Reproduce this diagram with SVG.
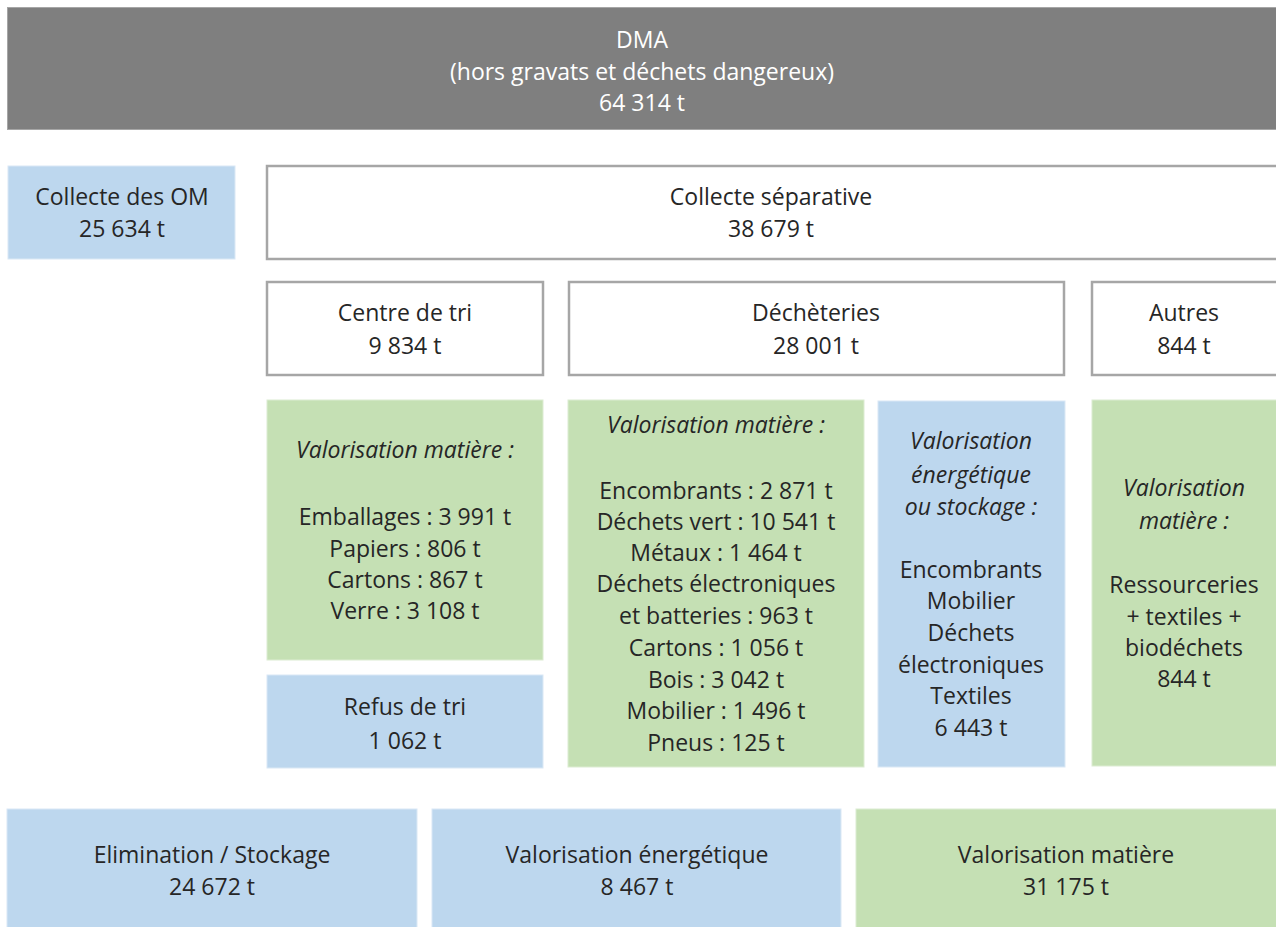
<svg xmlns="http://www.w3.org/2000/svg" width="1276" height="927" viewBox="0 0 1276 927">
<style>
text{font-family:"Open Sans","Noto Sans",sans-serif;font-size:23px;fill:#262626;text-anchor:middle}
.w{fill:#ffffff}
.i{font-style:italic}
.grey{fill:#7f7f7f;stroke:#a6a6a6;stroke-width:1}
.box{fill:#ffffff;stroke:#a6a6a6;stroke-width:2.5}
.blue{fill:#bdd7ee;stroke:#dae8f5;stroke-width:1}
.green{fill:#c5e0b4;stroke:#dcecd2;stroke-width:1}
</style>
<rect width="1276" height="927" fill="#ffffff"/>
<g id="dma"><rect class="grey" x="7.5" y="7.5" width="1270" height="122"/>
<text class="w" x="642" y="48">DMA</text><text class="w" x="642" y="80">(hors gravats et déchets dangereux)</text><text class="w" x="642" y="111">64 314 t</text></g>
<g id="om"><rect class="blue" x="8" y="166" width="227" height="93"/>
<text x="122" y="205">Collecte des OM</text><text x="122" y="237">25 634 t</text></g>
<g id="separative"><rect class="box" x="267" y="166" width="1012" height="93"/>
<text x="771" y="205">Collecte séparative</text><text x="771" y="237">38 679 t</text></g>
<g id="centre-tri"><rect class="box" x="267" y="282" width="276" height="93"/>
<text x="405" y="321">Centre de tri</text><text x="405" y="354">9 834 t</text></g>
<g id="decheteries"><rect class="box" x="569" y="282" width="495" height="93"/>
<text x="816" y="321">Déchèteries</text><text x="816" y="354">28 001 t</text></g>
<g id="autres"><rect class="box" x="1092" y="282" width="190" height="93"/>
<text x="1184" y="321">Autres</text><text x="1184" y="354">844 t</text></g>
<g id="tri-valo"><rect class="green" x="267" y="400" width="276" height="260"/>
<text class="i" x="405" y="458">Valorisation matière :</text>
<text x="405" y="525">Emballages : 3 991 t</text><text x="405" y="557">Papiers : 806 t</text><text x="405" y="588">Cartons : 867 t</text><text x="405" y="619">Verre : 3 108 t</text></g>
<g id="refus"><rect class="blue" x="267" y="675" width="276" height="93"/>
<text x="405" y="715">Refus de tri</text><text x="405" y="749">1 062 t</text></g>
<g id="dech-valo"><rect class="green" x="568" y="400" width="296" height="367"/>
<text class="i" x="716" y="433">Valorisation matière :</text>
<text x="716" y="499">Encombrants : 2 871 t</text><text x="716" y="530">Déchets vert : 10 541 t</text><text x="716" y="561">Métaux : 1 464 t</text><text x="716" y="592">Déchets électroniques</text><text x="716" y="624">et batteries : 963 t</text><text x="716" y="656">Cartons : 1 056 t</text><text x="716" y="688">Bois : 3 042 t</text><text x="716" y="719">Mobilier : 1 496 t</text><text x="716" y="751">Pneus : 125 t</text></g>
<g id="dech-energie"><rect class="blue" x="878" y="401" width="187" height="366"/>
<text class="i" x="971" y="449">Valorisation</text><text class="i" x="971" y="483">énergétique</text><text class="i" x="971" y="515">ou stockage :</text>
<text x="971" y="578">Encombrants</text><text x="971" y="609">Mobilier</text><text x="971" y="641">Déchets</text><text x="971" y="673">électroniques</text><text x="971" y="704">Textiles</text><text x="971" y="736">6 443 t</text></g>
<g id="autres-valo"><rect class="green" x="1092" y="400" width="190" height="366"/>
<text class="i" x="1184" y="496">Valorisation</text><text class="i" x="1184" y="529">matière :</text>
<text x="1184" y="593">Ressourceries</text><text x="1184" y="625">+ textiles +</text><text x="1184" y="656">biodéchets</text><text x="1184" y="687">844 t</text></g>
<g id="elimination"><rect class="blue" x="7" y="809" width="410" height="125"/>
<text x="212" y="863">Elimination / Stockage</text><text x="212" y="895">24 672 t</text></g>
<g id="energetique"><rect class="blue" x="432" y="809" width="409" height="125"/>
<text x="637" y="863">Valorisation énergétique</text><text x="637" y="895">8 467 t</text></g>
<g id="matiere"><rect class="green" x="856" y="809" width="425" height="125"/>
<text x="1066" y="863">Valorisation matière</text><text x="1066" y="895">31 175 t</text></g>
<g id="connectors"></g>
</svg>
